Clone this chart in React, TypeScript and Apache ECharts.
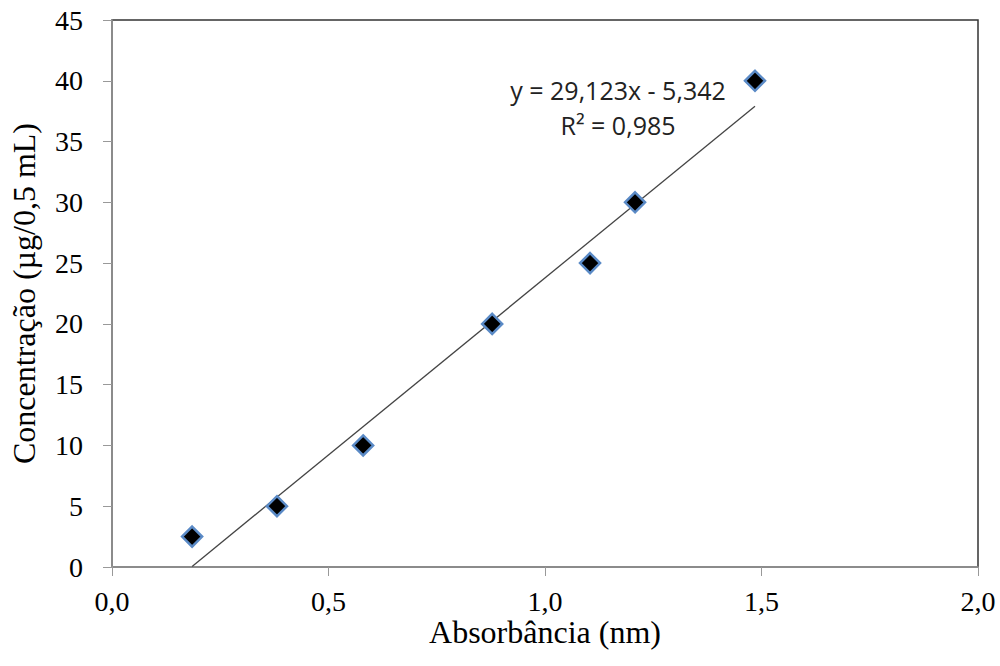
import React, { useEffect, useRef } from "react";
import * as echarts from "echarts";

const absorbance = [0.185, 0.381, 0.58, 0.878, 1.104, 1.208, 1.485];
const concentration = [2.5, 5, 10, 20, 25, 30, 40];
const slope = 29.123;
const intercept = -5.342;
const equationLines = ["y = 29,123x - 5,342", "R² = 0,985"];
const xTitle = "Absorbância (nm)";
const yTitle = "Concentração (µg/0,5 mL)";

const fmt = (v: number) => v.toFixed(1).replace(".", ",");

export default function App() {
  const ref = useRef<HTMLDivElement>(null);
  useEffect(() => {
    document.body.style.margin = "0";
    document.body.style.overflow = "hidden";
    if (!ref.current) return;
    const chart = echarts.init(ref.current, undefined, { renderer: "svg" });
    const xMin = Math.max(Math.min(...absorbance), -intercept / slope);
    const xMax = Math.max(...absorbance);
    const trend = [
      [xMin, slope * xMin + intercept],
      [xMax, slope * xMax + intercept],
    ];
    const serif = "'Liberation Serif', 'Times New Roman', serif";
    const sans = "'Open Sans', 'Liberation Sans', sans-serif";
    chart.setOption({
      animation: false,
      backgroundColor: "#fff",
      grid: {
        left: 112,
        right: 22,
        top: 20,
        bottom: 99,
        show: true,
        borderColor: "#333",
        borderWidth: 1.5,
        backgroundColor: "transparent",
      },
      xAxis: {
        type: "value",
        min: 0,
        max: 2,
        interval: 0.5,
        name: xTitle,
        nameLocation: "middle",
        nameGap: 49,
        nameMoveOverlap: false,
        nameTextStyle: { fontFamily: serif, fontSize: 32, color: "#000" },
        axisLine: { show: true, onZero: false, lineStyle: { color: "#999", width: 1.5 } },
        axisTick: { show: true, inside: false, length: 9, lineStyle: { color: "#999" } },
        axisLabel: { formatter: fmt, fontFamily: serif, fontSize: 28, color: "#000", margin: 20 },
        splitLine: { show: false },
      },
      yAxis: {
        type: "value",
        min: 0,
        max: 45,
        interval: 5,
        name: yTitle,
        nameLocation: "middle",
        nameGap: 72,
        nameMoveOverlap: false,
        nameTextStyle: { fontFamily: serif, fontSize: 32, color: "#000" },
        axisLine: { show: true, onZero: false, lineStyle: { color: "#999", width: 1.5 } },
        axisTick: { show: true, inside: false, length: 9, lineStyle: { color: "#999" } },
        axisLabel: { fontFamily: serif, fontSize: 28, color: "#000", margin: 29 },
        splitLine: { show: false },
      },
      series: [
        {
          type: "line",
          data: trend,
          showSymbol: false,
          symbol: "none",
          lineStyle: { color: "#444", width: 1.3 },
          silent: true,
          z: 2,
        },
        {
          type: "scatter",
          data: absorbance.map((x, i) => [x, concentration[i]]),
          symbol: "diamond",
          symbolSize: 20,
          itemStyle: { color: "#000", borderColor: "#5A8AC6", borderWidth: 2.5, opacity: 1 },
          z: 3,
        },
      ],
      graphic: [
        {
          type: "text",
          x: 618,
          y: 90,
          style: {
            text: equationLines[0],
            fontFamily: sans,
            fontSize: 25,
            textAlign: "center",
            textVerticalAlign: "middle",
            fill: "#222",
          },
        },
        {
          type: "text",
          x: 618,
          y: 125,
          style: {
            text: equationLines[1],
            fontFamily: sans,
            fontSize: 25,
            textAlign: "center",
            textVerticalAlign: "middle",
            fill: "#222",
          },
        },
      ],
    });
    return () => chart.dispose();
  }, []);
  return <div ref={ref} style={{ width: 1000, height: 666 }} />;
}
